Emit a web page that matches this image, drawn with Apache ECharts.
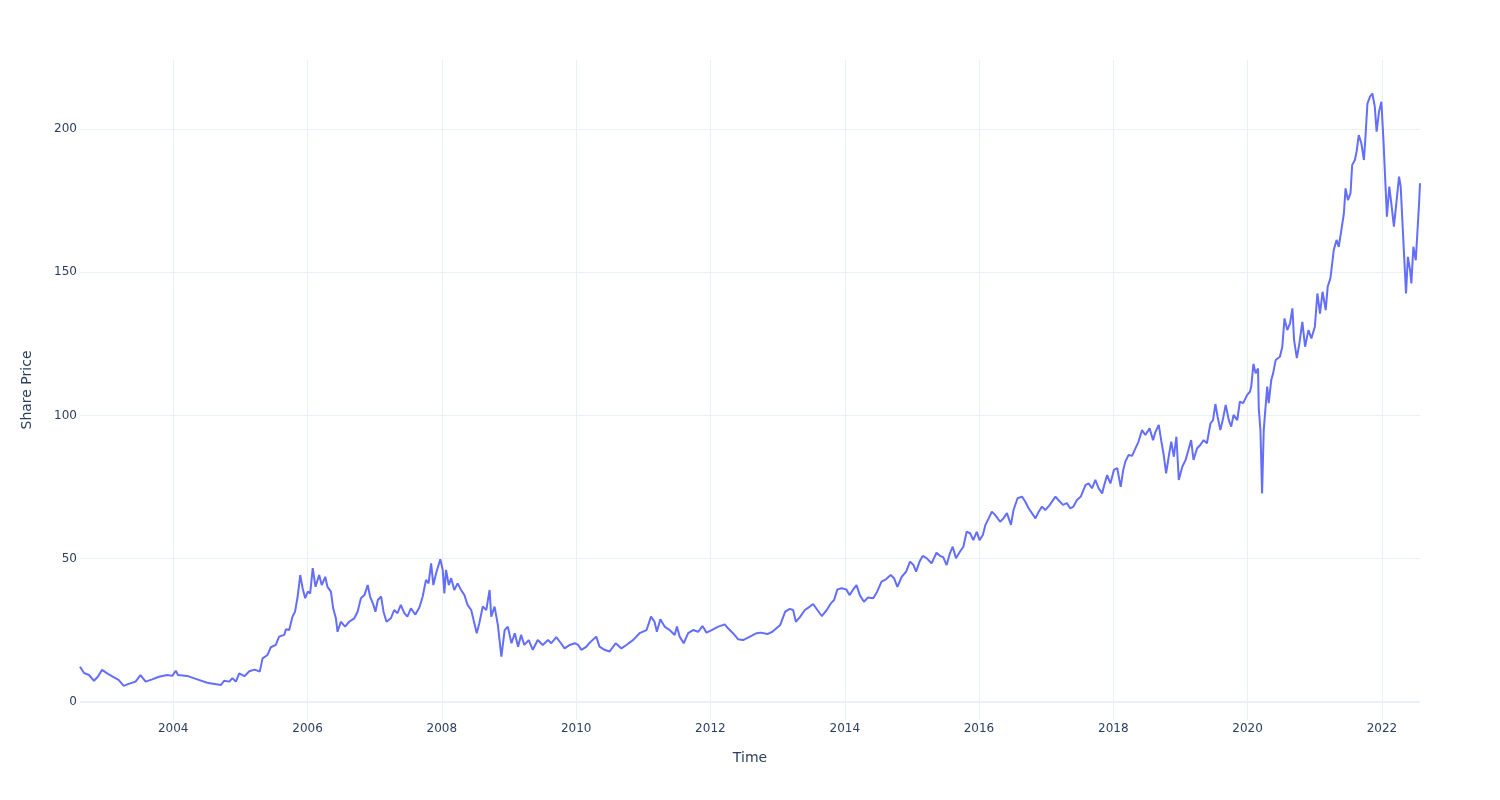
<!DOCTYPE html>
<html>
<head>
<meta charset="utf-8">
<title>Share Price</title>
<script src="https://cdn.jsdelivr.net/npm/echarts@6/dist/echarts.min.js"></script>
<style>
  html, body { margin: 0; padding: 0; background: #fff; }
  #chart { width: 1500px; height: 800px; }
</style>
</head>
<body>
<div id="chart"></div>
<script>
// values
const dates = [
  '2002-08-12','2002-09-03','2002-09-30','2002-10-27','2002-11-17','2002-12-10',
  '2003-01-07','2003-02-13','2003-03-10','2003-04-07','2003-05-04','2003-06-10','2003-07-07','2003-08-04','2003-09-09','2003-10-15','2003-11-30','2003-12-27',
  '2004-01-15','2004-01-27','2004-03-17','2004-05-11','2004-07-04','2004-09-16','2004-10-04','2004-11-01','2004-11-18','2004-12-07','2004-12-25',
  '2005-01-22','2005-02-18','2005-03-19','2005-04-16','2005-05-01','2005-05-28','2005-06-15','2005-07-12','2005-07-30','2005-08-27','2005-09-05','2005-09-23','2005-10-11','2005-10-25','2005-11-08','2005-11-22','2005-12-05','2005-12-19',
  '2006-01-02','2006-01-15','2006-01-29','2006-02-13','2006-03-05','2006-03-19','2006-04-07','2006-04-19','2006-05-08','2006-05-20','2006-06-04','2006-06-13','2006-07-01','2006-07-24','2006-08-15','2006-09-12','2006-09-30','2006-10-18','2006-11-06','2006-11-24','2006-12-07','2006-12-25',
  '2007-01-05','2007-01-18','2007-02-05','2007-02-18','2007-03-06','2007-03-30','2007-04-17','2007-05-05','2007-05-23','2007-06-11','2007-06-28','2007-07-17','2007-08-10','2007-09-01','2007-09-19','2007-10-07','2007-10-21','2007-11-04','2007-11-16','2007-12-01','2007-12-24',
  '2008-01-06','2008-01-15','2008-01-24','2008-02-08','2008-02-21','2008-03-09','2008-03-27','2008-04-15','2008-05-03','2008-05-20','2008-06-09','2008-06-26','2008-07-09','2008-07-23','2008-08-11','2008-08-30','2008-09-17','2008-09-26','2008-10-14','2008-11-01','2008-11-20','2008-12-08','2008-12-25',
  '2009-01-14','2009-02-01','2009-02-19','2009-03-07','2009-03-25','2009-04-18','2009-05-10','2009-06-06','2009-07-03','2009-08-01','2009-08-19','2009-09-15','2009-10-03','2009-10-30','2009-11-27','2009-12-24',
  '2010-01-11','2010-01-30','2010-02-26','2010-03-14','2010-04-20','2010-05-08','2010-06-04','2010-07-01','2010-08-04','2010-09-04','2010-10-01','2010-11-06','2010-12-12',
  '2011-01-19','2011-02-12','2011-03-03','2011-03-16','2011-04-04','2011-04-27','2011-05-24','2011-06-21','2011-07-03','2011-07-18','2011-08-09','2011-09-02','2011-09-29','2011-10-26','2011-11-19','2011-12-11',
  '2012-01-08','2012-02-13','2012-03-19','2012-04-06','2012-05-03','2012-05-30','2012-06-27','2012-08-03','2012-09-09','2012-10-01','2012-11-06','2012-12-03',
  '2013-01-15','2013-02-11','2013-03-08','2013-03-26','2013-04-10','2013-05-02','2013-05-29','2013-06-25','2013-07-13','2013-08-05','2013-08-29','2013-09-25','2013-10-17','2013-11-04','2013-11-22','2013-12-15',
  '2014-01-09','2014-01-27','2014-02-14','2014-03-06','2014-03-24','2014-04-15','2014-05-08','2014-06-05','2014-06-26','2014-07-20','2014-08-13','2014-09-08','2014-09-26','2014-10-14','2014-11-07','2014-12-01','2014-12-22',
  '2015-01-10','2015-01-24','2015-02-12','2015-03-01','2015-03-22','2015-04-18','2015-05-15','2015-06-03','2015-06-21','2015-07-09','2015-07-27','2015-08-11','2015-08-29','2015-09-20','2015-10-08','2015-10-26','2015-11-14','2015-12-01','2015-12-20',
  '2016-01-04','2016-01-22','2016-02-05','2016-02-23','2016-03-11','2016-03-29','2016-04-25','2016-05-13','2016-06-01','2016-06-23','2016-07-07','2016-07-29','2016-08-22','2016-09-09','2016-09-27','2016-10-15','2016-11-03','2016-11-21','2016-12-09','2016-12-27',
  '2017-01-20','2017-02-20','2017-03-08','2017-04-02','2017-04-23','2017-05-11','2017-05-29','2017-06-17','2017-07-08','2017-08-02','2017-08-19','2017-09-07','2017-09-25','2017-10-13','2017-11-01','2017-11-10','2017-11-28','2017-12-16',
  '2018-01-04','2018-01-22','2018-02-10','2018-02-24','2018-03-07','2018-03-25','2018-04-13','2018-05-01','2018-05-18','2018-06-06','2018-06-24','2018-07-17','2018-08-05','2018-08-18','2018-09-05','2018-09-18','2018-10-02','2018-10-15','2018-10-29','2018-11-12','2018-11-26','2018-12-10','2018-12-23',
  '2019-01-11','2019-01-29','2019-02-11','2019-02-28','2019-03-13','2019-04-01','2019-04-19','2019-05-07','2019-05-25','2019-06-13','2019-06-27','2019-07-10','2019-07-22','2019-08-06','2019-08-21','2019-09-04','2019-09-21','2019-10-04','2019-10-17','2019-11-06','2019-11-20','2019-12-08','2019-12-30',
  '2020-01-14','2020-01-21','2020-02-02','2020-02-14','2020-02-27','2020-03-02','2020-03-11','2020-03-20','2020-03-29','2020-04-08','2020-04-17','2020-04-25','2020-05-09','2020-05-19','2020-06-02','2020-06-14','2020-06-25','2020-07-08','2020-07-20','2020-08-04','2020-08-19','2020-09-01','2020-09-10','2020-09-25','2020-10-09','2020-10-25','2020-11-09','2020-11-27','2020-12-13',
  '2021-01-01','2021-01-15','2021-01-29','2021-02-12','2021-03-01','2021-03-12','2021-03-27','2021-04-14','2021-04-29','2021-05-11','2021-05-24','2021-06-08','2021-06-17','2021-06-30','2021-07-14','2021-07-23','2021-08-07','2021-08-16','2021-08-28','2021-09-11','2021-09-25','2021-10-04','2021-10-14','2021-10-28','2021-11-10','2021-11-23','2021-12-03','2021-12-16','2021-12-29',
  '2022-01-10','2022-01-19','2022-01-28','2022-02-10','2022-02-23','2022-03-07','2022-03-22','2022-04-04','2022-04-13','2022-04-22','2022-05-01','2022-05-12','2022-05-22','2022-06-03','2022-06-10','2022-06-21','2022-07-04','2022-07-13','2022-07-22','2022-07-27'
]

const prices = [
  12.3, 10.1, 9.4, 7.4, 8.8, 11.2,
  10.0, 8.6, 7.7, 5.6, 6.3, 7.1, 9.4, 7.1, 7.9, 8.8, 9.4, 9.1,
  10.9, 9.4, 9.1, 7.9, 6.7, 5.9, 7.4, 7.1, 8.3, 7.1, 10.0,
  9.0, 10.7, 11.3, 10.6, 15.2, 16.4, 19.1, 19.9, 22.8, 23.4, 25.4, 25.1, 29.8, 31.6, 36.8, 44.3, 39.7, 36.2,
  38.5, 37.9, 46.7, 40.2, 44.3, 40.8, 43.7, 40.2, 38.5, 32.7, 29.2, 24.5, 28.0, 26.3, 28.0, 29.2, 31.5, 36.2, 37.3, 40.8, 36.8, 33.9,
  31.5, 35.6, 36.8, 31.5, 28.0, 29.2, 32.1, 31.0, 33.9, 31.0, 29.8, 32.7, 30.5, 33.0, 36.8, 42.6, 41.4, 48.4, 40.8, 44.9, 49.8,
  46.1, 37.9, 46.1, 40.8, 43.2, 39.1, 41.4, 39.1, 37.3, 33.9, 32.1, 27.5, 24.0, 27.5, 33.3, 32.1, 39.1, 29.8, 33.3, 26.9, 15.8, 25.1, 26.3,
  20.5, 24.0, 19.3, 23.4, 19.9, 21.6, 18.2, 21.6, 19.9, 21.6, 20.5, 22.6, 21.1, 18.7, 19.9, 20.5,
  19.9, 18.2, 19.3, 20.6, 22.8, 19.3, 18.2, 17.6, 20.5, 18.7, 19.9, 21.6, 24.0,
  25.1, 29.8, 28.0, 24.5, 28.9, 26.3, 25.1, 23.4, 26.3, 22.8, 20.5, 24.0, 25.1, 24.5, 26.5, 24.2,
  25.1, 26.3, 27.1, 25.7, 24.0, 21.9, 21.6, 22.8, 24.0, 24.2, 23.7, 24.5,
  26.9, 31.5, 32.5, 32.1, 28.0, 29.6, 32.1, 33.3, 34.2, 32.1, 30.0, 32.1, 34.4, 35.6, 39.3, 39.7,
  39.3, 37.3, 39.1, 40.8, 37.3, 35.0, 36.5, 36.2, 38.5, 42.0, 42.8, 44.3, 43.2, 40.2, 43.7, 45.5, 49.0,
  47.8, 45.5, 49.0, 51.0, 50.2, 48.4, 52.1, 51.0, 50.5, 47.8, 51.9, 54.2, 50.2, 52.5, 54.2, 59.4, 58.9, 56.5, 59.4,
  56.5, 58.3, 61.8, 64.1, 66.4, 65.3, 62.9, 64.1, 65.9, 61.8, 67.0, 71.1, 71.7, 69.9, 67.6, 65.9, 64.1, 66.4, 68.2, 67.0,
  68.8, 71.7, 70.5, 68.8, 69.4, 67.6, 68.2, 70.5, 71.7, 75.7, 76.3, 74.6, 77.5, 74.6, 72.8, 75.1, 79.2, 76.3,
  81.0, 81.6, 75.1, 81.0, 83.9, 86.2, 85.9, 88.5, 90.9, 94.9, 93.2, 95.5, 91.4, 94.3, 96.7, 91.4, 86.2, 79.8, 85.6, 90.9, 85.6, 92.6, 77.5,
  82.1, 84.5, 87.4, 91.4, 84.5, 88.5, 89.7, 91.4, 90.3, 97.2, 98.4, 104.0, 99.6, 94.9, 99.0, 103.7, 98.4, 96.1, 100.2, 98.4, 104.8, 104.3, 107.2,
  108.3, 110.1, 118.0, 114.7, 116.4, 102.5, 94.9, 72.8, 94.9, 103.1, 110.1, 104.3, 112.4, 114.7, 119.4, 120.0, 120.5, 124.0, 133.9, 129.8, 132.2, 137.4, 126.4, 120.0, 125.2, 132.7, 124.0, 129.8, 126.9,
  131.0, 142.6, 135.6, 143.2, 136.8, 145.0, 148.0, 157.8, 161.3, 158.9, 164.2, 170.6, 179.3, 175.2, 177.6, 187.4, 189.2, 192.1, 197.9, 195.0, 189.2, 197.9, 208.9, 211.3, 212.4, 207.8, 199.1, 206.0, 209.5,
  195.0, 182.2, 169.4, 179.9, 172.9, 165.9, 175.2, 183.4, 179.9, 168.2, 156.6, 142.6, 155.4, 150.8, 146.1, 158.9, 154.2, 153.6, 174.1, 181.1
]

const tickYears = [2004, 2006, 2008, 2010, 2012, 2014, 2016, 2018, 2020, 2022]
const yTicks = [0, 50, 100, 150, 200]

const chart = echarts.init(document.getElementById('chart'))

const textColor = '#2a3f5f'
const gridColor = '#EBF0F8'
const font = '"DejaVu Sans", verdana, arial, sans-serif'

// ISO date-only strings parse as UTC
const xTicks = tickYears.map(y => Date.UTC(y, 0, 1))

chart.setOption({
  animation: false,
  textStyle: { fontFamily: font },
  grid: { left: 80, right: 80, top: 60, bottom: 80 },
  xAxis: {
    type: 'value',
    min: Date.parse(dates[0]),
    max: Date.parse(dates[dates.length - 1]),
    name: 'Time',
    nameLocation: 'middle',
    nameGap: 31,
    nameTextStyle: { color: textColor, fontSize: 14, fontFamily: font },
    axisLine: { show: false },
    axisTick: { show: false, customValues: xTicks },
    axisLabel: {
      customValues: xTicks,
      formatter: v => String(new Date(v).getUTCFullYear()),
      color: textColor,
      fontSize: 12,
      margin: 3,
      fontFamily: font
    },
    splitLine: { show: true, lineStyle: { color: gridColor, width: 1 } }
  },
  yAxis: {
    type: 'value',
    min: -6.3,
    max: 224.1,
    name: 'Share Price',
    nameLocation: 'middle',
    nameGap: 46,
    nameTextStyle: { color: textColor, fontSize: 14, fontFamily: font },
    axisLine: { show: false },
    axisTick: { show: false, customValues: yTicks },
    axisLabel: {
      customValues: yTicks,
      color: textColor,
      fontSize: 12,
      margin: 3,
      fontFamily: font
    },
    splitLine: { show: true, lineStyle: { color: gridColor, width: 1 } }
  },
  series: [
    {
      type: 'line',
      data: dates.map((d, i) => [Date.parse(d), prices[i]]),
      showSymbol: false,
      symbol: 'none',
      lineStyle: { color: '#636efa', width: 2 },
      itemStyle: { color: '#636efa' },
      markLine: {
        silent: true,
        symbol: 'none',
        label: { show: false },
        lineStyle: { color: gridColor, width: 2, type: 'solid' },
        data: [{ yAxis: 0 }]
      },
      z: 3
    }
  ]
})
</script>
</body>
</html>
